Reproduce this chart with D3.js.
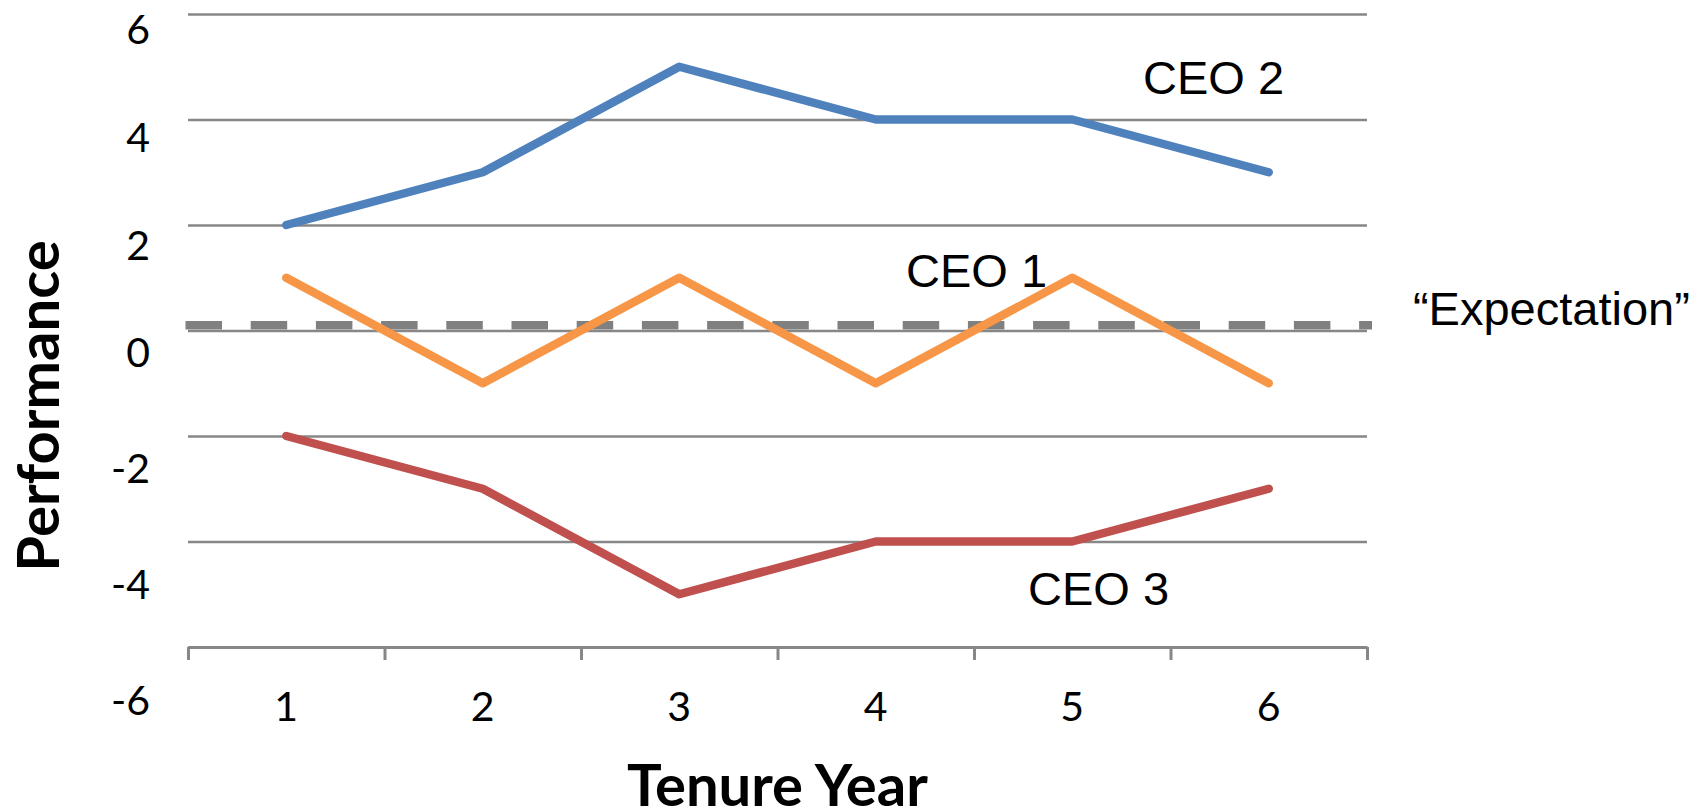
<!DOCTYPE html>
<html lang="en">
  <head>
    <meta charset="UTF-8" />
    <title>CEO performance by tenure year</title>
    <style>
      body { margin: 0; background: #fff; }
      svg { display: block; }
    </style>
  </head>
  <body>
    <div id="chart">
      <svg width="1699" height="811"></svg>
    </div>
    <script src="https://d3js.org/d3.v7.min.js"></script>
    <script>
      // data
      var years = ["1", "2", "3", "4", "5", "6"];
      var ceo1 = [1, -1, 1, -1, 1, -1];
      var ceo2 = [2, 3, 5, 4, 4, 3];
      var ceo3 = [-2, -3, -5, -4, -4, -3];
      var expectation = 0.1;
      var yTicks = [6, 4, 2, 0, -2, -4, -6];
      var seriesNames = ["CEO 1", "CEO 2", "CEO 3"];
      var seriesColors = ["#F79646", "#4F81BD", "#C0504D"];

      var svg = d3.select("#chart>svg");
      var plot = { left: 188, right: 1367, top: 14, bottom: 647 };

      var x = d3.scaleBand().domain(years).range([plot.left, plot.right]);
      var xEdge = d3.scaleLinear().domain([0, years.length]).range([plot.left, plot.right]);
      var y = d3.scaleLinear().domain([-6, 6]).range([plot.bottom, plot.top]);
      // tick labels sit a bit off the gridlines in the original
      var yLabel = d3.scaleLinear().domain([6, 0, -6]).range([29, 352, 699.5]);

      var tickFont = "Lato, 'Open Sans', sans-serif";

      // gridlines
      var grid = svg.append("g")
        .attr("transform", "translate(" + plot.left + ",0)")
        .call(d3.axisLeft(y).tickValues(yTicks).tickSize(-(plot.right - plot.left)).tickFormat(""));
      grid.select(".domain").remove();
      grid.selectAll(".tick line").attr("stroke", "#878787").attr("stroke-width", 2.5);

      // x axis with boundary ticks
      var xAxis = svg.append("g")
        .attr("transform", "translate(0," + plot.bottom + ")")
        .call(d3.axisBottom(xEdge).tickValues(d3.range(0, years.length + 1)).tickSize(13).tickSizeOuter(0).tickFormat(""));
      xAxis.select(".domain").attr("stroke", "#878787").attr("stroke-width", 3);
      xAxis.selectAll(".tick line").attr("stroke", "#878787").attr("stroke-width", 3);

      // x labels
      var xLab = svg.append("g")
        .attr("transform", "translate(0," + plot.bottom + ")")
        .call(d3.axisBottom(x).tickSize(0));
      xLab.select(".domain").remove();
      xLab.selectAll("text")
        .attr("y", 74).attr("dy", null)
        .attr("font-family", tickFont).attr("font-size", 41).attr("fill", "#000");

      // y labels (plain hyphen like the original)
      var yLab = svg.append("g")
        .attr("transform", "translate(150,0)")
        .call(d3.axisLeft(yLabel).tickValues(yTicks).tickSize(0).tickPadding(0)
          .tickFormat(function (d) { return String(d); }));
      yLab.select(".domain").remove();
      yLab.selectAll("text")
        .attr("dy", "0.36em")
        .attr("font-family", tickFont).attr("font-size", 41).attr("fill", "#000");

      // expectation line
      svg.append("line")
        .attr("x1", plot.left - 2.5).attr("x2", plot.right + 5)
        .attr("y1", y(expectation)).attr("y2", y(expectation))
        .attr("stroke", "#808080").attr("stroke-width", 8.5)
        .attr("stroke-dasharray", "36.5,28.7");

      // series
      var line = d3.line()
        .x(function (d, i) { return x(years[i]) + x.bandwidth() / 2; })
        .y(function (d) { return y(d); });

      [ceo1, ceo2, ceo3].forEach(function (s, i) {
        svg.append("path")
          .datum(s)
          .attr("fill", "none")
          .attr("stroke", seriesColors[i])
          .attr("stroke-width", 8.5)
          .attr("stroke-linejoin", "round")
          .attr("stroke-linecap", "round")
          .attr("d", line);
      });

      // annotations
      var labFont = "'Liberation Sans', Arial, sans-serif";
      var notes = [
        { t: seriesNames[1], gx: 4.86, gy: 4.48 },
        { t: seriesNames[0], gx: 3.654, gy: 0.825 },
        { t: seriesNames[2], gx: 4.275, gy: -5.204 },
        { t: "\u201CExpectation\u201D", gx: 6.234, gy: expectation }
      ];
      svg.selectAll(".note")
        .data(notes)
        .enter()
        .append("text")
        .attr("class", "note")
        .attr("x", function (d) { return xEdge(d.gx); })
        .attr("y", function (d) { return y(d.gy); })
        .attr("font-family", labFont)
        .attr("font-size", 47)
        .attr("fill", "#000")
        .text(function (d) { return d.t; });

      // axis titles
      svg.append("text")
        .attr("x", (plot.left + plot.right) / 2)
        .attr("y", 806)
        .attr("text-anchor", "middle")
        .attr("font-family", tickFont)
        .attr("font-weight", "bold")
        .attr("font-size", 58)
        .text("Tenure Year");

      svg.append("text")
        .attr("transform", "translate(59,406) rotate(-90)")
        .attr("text-anchor", "middle")
        .attr("font-family", tickFont)
        .attr("font-weight", "bold")
        .attr("font-size", 58)
        .text("Performance");
    </script>
  </body>
</html>
